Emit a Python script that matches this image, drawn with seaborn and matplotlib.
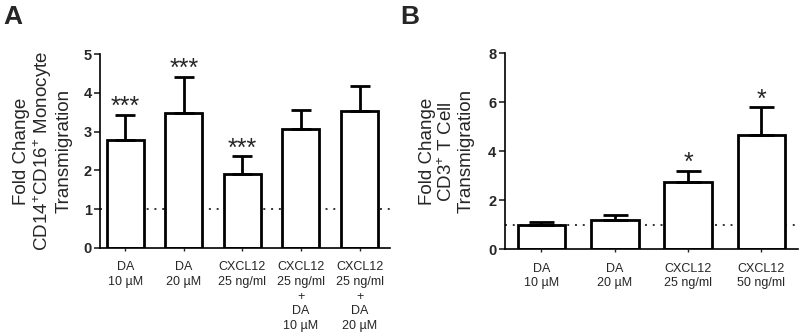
import matplotlib
matplotlib.use("Agg")
import matplotlib.pyplot as plt
import seaborn as sns
import numpy as np
import pandas as pd

sns.set_style("ticks")
plt.rcParams['font.family'] = ['Liberation Sans', 'DejaVu Sans']
plt.rcParams['mathtext.fontset'] = 'custom'
plt.rcParams['mathtext.rm'] = 'Liberation Sans'
plt.rcParams['mathtext.default'] = 'regular'

# Panel A data
cats_a = ["DA\n10 \u00b5M", "DA\n20 \u00b5M", "CXCL12\n25 ng/ml",
          "CXCL12\n25 ng/ml\n+\nDA\n10 \u00b5M", "CXCL12\n25 ng/ml\n+\nDA\n20 \u00b5M"]
vals_a = [2.78, 3.47, 1.90, 3.06, 3.53]
err_a = [0.65, 0.95, 0.46, 0.51, 0.65]
sig_a = ["***", "***", "***", "", ""]
yticks_a = [0, 1, 2, 3, 4, 5]

# Panel B data
cats_b = ["DA\n10 \u00b5M", "DA\n20 \u00b5M", "CXCL12\n25 ng/ml", "CXCL12\n50 ng/ml"]
vals_b = [1.00, 1.20, 2.73, 4.68]
err_b = [0.13, 0.20, 0.47, 1.12]
sig_b = ["", "", "*", "*"]
yticks_b = [0, 2, 4, 6, 8]

fig = plt.figure(figsize=(8, 3.36), dpi=100)
axA = fig.add_axes([0.125, 0.262, 0.3625, 0.577])
axB = fig.add_axes([0.631, 0.258, 0.3665, 0.583])


def panel(ax, cats, vals, errs, sigs, yticks, width, cap, xlim, ylabel, lpad):
    df = pd.DataFrame({"cat": cats, "val": vals})
    ax.axhline(1, color="#333333", linestyle=(0, (1, 3)), linewidth=1.4, zorder=0)
    sns.barplot(data=df, x="cat", y="val", color="white", edgecolor="black",
                linewidth=2.0, width=width, ax=ax, zorder=2, saturation=1)
    x = np.arange(len(vals))
    ax.errorbar(x, vals, yerr=[np.zeros(len(vals)), errs], fmt="none",
                ecolor="black", elinewidth=2.0, capsize=cap, capthick=2.0, zorder=3)
    for xi, v, e, s in zip(x, vals, errs, sigs):
        if s:
            ax.annotate(s, (xi, v + e), xytext=(0, -3), textcoords="offset points",
                        ha="center", va="bottom", fontsize=18)
    ax.set_xlim(*xlim)
    ax.set_ylim(yticks[0], yticks[-1])
    ax.set_yticks(yticks)
    ax.set_xlabel("")
    ax.set_ylabel(ylabel, fontsize=13.5, labelpad=lpad, linespacing=1.1)
    for sp in ["top", "right"]:
        ax.spines[sp].set_visible(False)
    for sp in ["left", "bottom"]:
        ax.spines[sp].set_linewidth(1.2)
        ax.spines[sp].set_color("black")
    ax.tick_params(axis="y", length=4, width=1.2, labelsize=10.5, pad=2)
    ax.tick_params(axis="x", length=2.5, width=1.0, labelsize=9, pad=7)
    for lab in ax.get_yticklabels():
        lab.set_fontweight("bold")
    for lab in ax.get_xticklabels():
        lab.set_linespacing(1.3)
        lab.set_verticalalignment("top")


panel(axA, cats_a, vals_a, err_a, sig_a, yticks_a, 0.63, 7, (-0.43, 4.52),
      "Fold Change\nCD14$^{+}$CD16$^{+}$ Monocyte\nTransmigration", 8)
panel(axB, cats_b, vals_b, err_b, sig_b, yticks_b, 0.65, 9, (-0.5, 3.5),
      "Fold Change\nCD3$^{+}$ T Cell\nTransmigration", 10)

fig.text(0.004, 0.985, "A", fontsize=19, fontweight="bold", va="top", ha="left")
fig.text(0.5, 0.985, "B", fontsize=19, fontweight="bold", va="top", ha="left")

fig.savefig("out.png", dpi=100)
